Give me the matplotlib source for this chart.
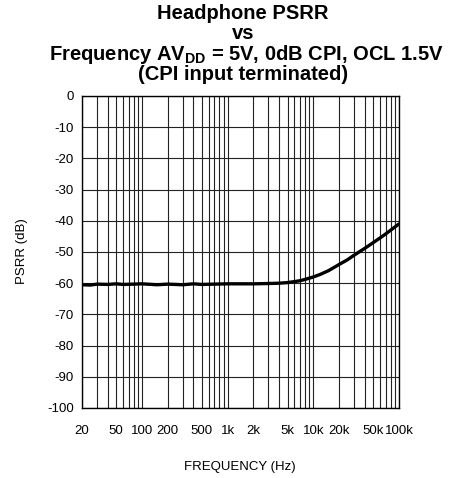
import matplotlib
matplotlib.use("Agg")
import matplotlib.pyplot as plt
import numpy as np

plt.rcParams['font.family'] = ['Liberation Sans', 'DejaVu Sans']
plt.rcParams['mathtext.fontset'] = 'custom'
plt.rcParams['mathtext.rm'] = 'Liberation Sans'
plt.rcParams['mathtext.bf'] = 'Liberation Sans:bold'

freq = [20, 25, 30, 40, 50, 60, 80, 100, 150, 200, 300, 400, 500, 700, 1000,
        1500, 2000, 3000, 4000, 5000, 6000, 7000, 8000, 10000, 12000, 15000,
        20000, 25000, 30000, 40000, 50000, 60000, 70000, 80000, 100000]
psrr = [-60.5, -60.6, -60.3, -60.4, -60.2, -60.4, -60.3, -60.2, -60.5, -60.3,
        -60.5, -60.2, -60.4, -60.3, -60.2, -60.2, -60.2, -60.1, -60.0, -59.8,
        -59.5, -59.2, -58.8, -58.0, -57.2, -56.0, -54.0, -52.5, -51.0, -48.8,
        -47.0, -45.5, -44.2, -43.0, -41.0]

xtick_vals = [20, 50, 100, 200, 500, 1000, 2000, 5000, 10000, 20000, 50000, 100000]
xtick_labels = ['20', '50', '100', '200', '500', '1k', '2k', '5k', '10k', '20k', '50k', '100k']
ytick_vals = list(range(0, -101, -10))

W, H = 461, 478
fig = plt.figure(figsize=(W/100, H/100), dpi=100)
ax = fig.add_axes([82/W, 1-408/H, (399-82)/W, (408-96)/H])

ax.set_xscale('log')
ax.set_xlim(20, 100000)
ax.set_ylim(-100, 0)

# grid lines
grid_x = [m * 10**d for d in range(1, 6) for m in range(1, 10) if 20 <= m * 10**d <= 100000]
for gx in grid_x:
    ax.axvline(gx, color='#222222', lw=0.8, zorder=1)
for gy in ytick_vals:
    ax.axhline(gy, color='#222222', lw=0.8, zorder=1)

ax.plot(freq, psrr, color='black', lw=2.4, zorder=3, solid_capstyle='round')

ax.set_xticks(xtick_vals)
ax.set_xticklabels(xtick_labels)
ax.xaxis.set_minor_locator(matplotlib.ticker.NullLocator())
ax.set_yticks(ytick_vals)
ax.set_yticklabels([str(v) for v in ytick_vals])
ax.tick_params(length=0, labelsize=9.5)
ax.tick_params(axis='x', pad=12)
ax.tick_params(axis='y', pad=6)
for s in ax.spines.values():
    s.set_linewidth(1.0)
    s.set_color('black')

fig.text(240/W, 1-467/H, 'FREQUENCY (Hz)', ha='center', va='center', fontsize=9.5)
fig.text(22/W, 1-251/H, 'PSRR (dB)', ha='center', va='center', rotation=90, fontsize=9.5)

tkw = dict(ha='center', va='baseline', fontsize=14.5, fontweight='bold')
fig.text(243/W, 1-19/H, 'Headphone PSRR', **tkw)
fig.text(243/W, 1-39/H, 'vs', **tkw)
fig.text(246/W, 1-60/H, r'Frequency AV$_{\mathbf{DD}}$ = 5V, 0dB CPI, OCL 1.5V', **tkw)
fig.text(243/W, 1-80/H, '(CPI input terminated)', **tkw)

fig.savefig('out.png', dpi=100)
